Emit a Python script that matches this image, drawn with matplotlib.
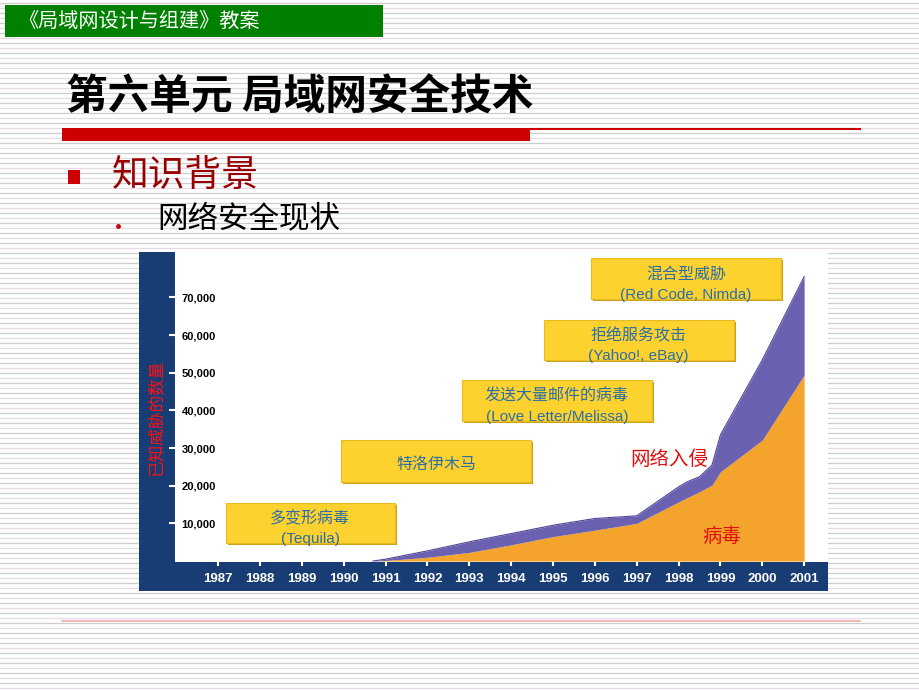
import matplotlib
matplotlib.use("Agg")
import matplotlib.pyplot as plt
from matplotlib.patches import Rectangle

W, H = 920, 690
CJK = ["Noto Sans CJK SC", "DejaVu Sans"]
LAT = ["Liberation Sans", "DejaVu Sans"]

# ---- data ----
years = [1990.7, 1991, 1992, 1993, 1994, 1995, 1996, 1997,
         1998, 1998.2, 1998.5, 1998.8, 1999, 2000, 2001]
virus = [0, 150, 1000, 2300, 4300, 6500, 8200, 10000,
         15700, 16800, 18400, 20200, 23700, 32100, 49400]
total = [0, 500, 2700, 5100, 7300, 9500, 11300, 12000,
         19700, 21000, 22400, 25500, 33500, 53400, 75500]
xticks = list(range(1987, 2002))
yticks = [10000, 20000, 30000, 40000, 50000, 60000, 70000]
ytick_labels = [f"{v:,}" for v in yticks]

ORANGE = "#F4A42C"
PURPLE = "#6A62B0"
NAVY = "#183C74"
YELLOW = "#FDD22E"
BOXTXT = "#2A6EA6"

fig = plt.figure(figsize=(9.2, 6.9), dpi=100)
fig.patch.set_facecolor("white")

# ---- slide background (pixel coordinates) ----
bg = fig.add_axes([0, 0, 1, 1], zorder=0)
bg.set_xlim(0, W); bg.set_ylim(H, 0); bg.axis("off")
for i, y in enumerate(range(3, H, 5)):
    bg.axhline(y, color="#CDCDCD" if i % 2 == 0 else "#E6D8E6", lw=0.9, zorder=0.5)

# green header
bg.add_patch(Rectangle((5, 5), 378, 32, facecolor="#008000", edgecolor="none", zorder=3))
bg.text(18, 21, "《局域网设计与组建》教案", color="white", fontsize=14.5,
        family=CJK, va="center", ha="left", zorder=4)

# title + red rule
bg.text(66, 98, "第六单元 局域网安全技术", fontsize=30, family=CJK,
        fontweight="bold", va="center", ha="left", color="black", zorder=4)
bg.add_patch(Rectangle((62, 128), 468, 13, facecolor="#CC0000", edgecolor="none", zorder=3))
bg.plot([530, 860], [129, 129], color="#CC0000", lw=1.5, zorder=3)

# bullets
bg.add_patch(Rectangle((68, 170), 12, 14, facecolor="#CC0000", edgecolor="none", zorder=3))
bg.text(112, 175, "知识背景", fontsize=26.5, family=CJK, color="#990000",
        va="center", ha="left", zorder=4)
bg.plot([118], [226], "o", color="#CC0000", ms=2.5, zorder=3)
bg.text(157, 220, "网络安全现状", fontsize=22, family=CJK, color="black",
        va="center", ha="left", zorder=4)

# bottom thin rule
bg.plot([62, 860], [621, 621], color="#F2A8A8", lw=1.2, zorder=3)

# navy chart frame
bg.add_patch(Rectangle((139, 252), 689, 339, facecolor=NAVY, edgecolor="none", zorder=3))
bg.text(156, 418, "已知威胁的数量", rotation=90, color="#FF1010", fontsize=12,
        family=CJK, va="center", ha="center", zorder=4)

# ---- chart ----
L, R, T, B = 175, 828, 252, 562
ax = fig.add_axes([L / W, (H - B) / H, (R - L) / W, (B - T) / H], zorder=2)
ax.set_facecolor("white")
ax.fill_between(years, 0, virus, color=ORANGE, lw=0)
ax.fill_between(years, virus, total, color=PURPLE, lw=0)
ax.plot(years, total, color="#4E4596", lw=0.8)
ax.set_xlim(1985.97, 2001.57)
ax.set_ylim(-250, 82050)
for s in ax.spines.values():
    s.set_visible(False)
ax.set_xticks(xticks)
ax.set_xticklabels([str(y) for y in xticks], family=LAT, fontsize=9.5,
                   fontweight="bold", color="white")
ax.set_yticks(yticks)
ax.set_yticklabels(ytick_labels, family=LAT, fontsize=8, fontweight="bold",
                   color="black")
ax.tick_params(axis="x", direction="out", length=3, width=1.5, color="white", pad=5)
ax.tick_params(axis="y", direction="out", length=4, width=1.5, color="white", pad=-33.5)

# ---- annotations overlay ----
ov = fig.add_axes([0, 0, 1, 1], zorder=5)
ov.set_xlim(0, W); ov.set_ylim(H, 0); ov.axis("off")
ov.patch.set_alpha(0)

boxes = [
    ((226, 503, 169, 40), "多变形病毒", "(Tequila)", 310),
    ((341, 440, 190, 42), "特洛伊木马", None, 436),
    ((462, 380, 190, 41), "发送大量邮件的病毒", "(Love Letter/Melissa)", 557),
    ((544, 320, 190, 40), "拒绝服务攻击", "(Yahoo!, eBay)", 638),
    ((591, 258, 190, 41), "混合型威胁", "(Red Code, Nimda)", 686),
]
for (x, y, w, h), cn, en, cx in boxes:
    ov.add_patch(Rectangle((x + 2, y + 2), w, h, facecolor="#C9A21A", edgecolor="none"))
    ov.add_patch(Rectangle((x, y), w, h, facecolor=YELLOW, edgecolor="#E7BC22", lw=0.8))
    if en is None:
        ov.text(cx, y + h / 2 + 3, cn, fontsize=11.5, family=CJK, color=BOXTXT,
                ha="center", va="center")
    else:
        ov.text(cx, y + 16, cn, fontsize=11.5, family=CJK, color=BOXTXT,
                ha="center", va="center")
        ov.text(cx, y + h - 4, en, fontsize=11, family=LAT, color=BOXTXT,
                ha="center", va="center")

ov.text(669, 459, "网络入侵", fontsize=14, family=CJK, color="#E01010",
        ha="center", va="center")
ov.text(722, 537, "病毒", fontsize=14, family=CJK, color="#E01010",
        ha="center", va="center")

fig.savefig("out.png", dpi=100, facecolor="white")
